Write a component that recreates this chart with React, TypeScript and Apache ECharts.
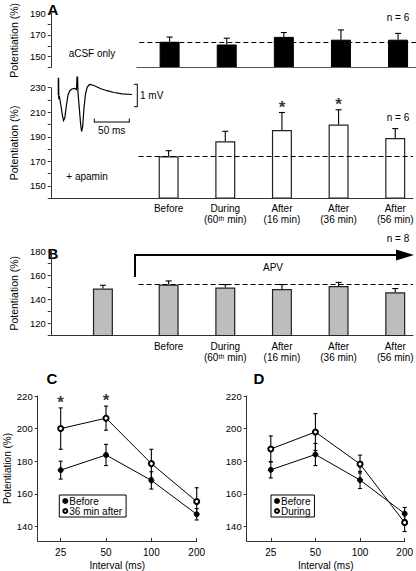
import React, { useEffect, useRef } from 'react';
import * as echarts from 'echarts';

// ---------- data ----------
const CATEGORIES = ['Before', 'During\n(60ᵗʰ min)', 'After\n(16 min)', 'After\n(36 min)', 'After\n(56 min)'];
const ACSF_MEAN = [163.7, 161.2, 168.2, 165.6, 165.6];
const ACSF_SEM = [4.3, 5.8, 4.0, 9.0, 5.8];
const APAMIN_MEAN = [174.1, 186.3, 195.5, 200.0, 189.0];
const APAMIN_SEM = [4.6, 8.2, 14.3, 12.0, 7.7];
const APAMIN_SIG = [false, false, true, true, false];
const APV_CONTROL_MEAN = 148.9;
const APV_CONTROL_SEM = 2.7;
const APV_MEAN = [152.2, 149.7, 148.5, 151.0, 145.8];
const APV_SEM = [3.0, 2.5, 3.7, 3.0, 3.1];

const INTERVALS = ['25', '50', '100', '200'];
const C_BEFORE = [174.5, 183.8, 168.2, 147.4];
const C_BEFORE_SEM = [5.5, 6.5, 5.3, 3.5];
const C_AFTER = [200.0, 206.4, 178.5, 155.2];
const C_AFTER_SEM = [12.7, 7.4, 8.8, 8.5];
const C_SIG = [true, true, false, false];
const D_BEFORE = [174.7, 184.1, 168.4, 147.8];
const D_BEFORE_SEM = [5.0, 6.8, 5.2, 3.8];
const D_DURING = [187.5, 197.9, 178.2, 142.3];
const D_DURING_SEM = [8.0, 11.3, 5.5, 5.5];

// ---------- layout ----------
const FONT = '"Liberation Sans", Arial, Helvetica, sans-serif';
const BAR_XMIN = -1.081;
const BAR_XMAX = 5.314;
const CTRL_SLOT = -0.16;
const REF_START = 0.47;
const BASE_START = 0.42;
const AXIS_COLOR = '#333';

function errRender(capHalf: number, both: boolean) {
  return (params: any, api: any) => {
    const x = api.value(0);
    const m = api.value(1);
    const e = api.value(2);
    const pTop = api.coord([x, m + e]);
    const pMid = api.coord([x, m]);
    const pBot = api.coord([x, m - e]);
    const st = { stroke: '#000', lineWidth: 1.1 };
    const children: any[] = [
      { type: 'line', shape: { x1: pTop[0], y1: pTop[1], x2: pTop[0], y2: both ? pBot[1] : pMid[1] }, style: st },
      { type: 'line', shape: { x1: pTop[0] - capHalf, y1: pTop[1], x2: pTop[0] + capHalf, y2: pTop[1] }, style: st },
    ];
    if (both) {
      children.push({ type: 'line', shape: { x1: pBot[0] - capHalf, y1: pBot[1], x2: pBot[0] + capHalf, y2: pBot[1] }, style: st });
    }
    return { type: 'group', children };
  };
}

function barXAxis(gridIndex: number, showLine: boolean, showLabels: boolean) {
  return {
    type: 'value', gridIndex, min: BAR_XMIN, max: BAR_XMAX,
    axisLine: { show: showLine, onZero: false, lineStyle: { color: AXIS_COLOR, width: 1 } },
    axisTick: { show: false },
    splitLine: { show: false },
    axisLabel: {
      show: showLabels,
      customValues: [1, 2, 3, 4, 5],
      formatter: (v: number) => CATEGORIES[Math.round(v) - 1] || '',
      fontSize: 10, lineHeight: 11, color: '#000', fontFamily: FONT, margin: 5,
    },
  };
}

function barYAxis(gridIndex: number, min: number, max: number, labels: number[]) {
  return {
    type: 'value', gridIndex, min, max, interval: 10,
    axisLine: { show: true, onZero: false, lineStyle: { color: AXIS_COLOR, width: 1 } },
    axisTick: { show: true, length: 3, lineStyle: { color: AXIS_COLOR } },
    splitLine: { show: false },
    axisLabel: { customValues: labels, fontSize: 9.5, color: '#000', fontFamily: FONT, margin: 5 },
    name: 'Potentiation (%)', nameLocation: 'middle', nameGap: 25,
    nameTextStyle: { fontSize: 10.5, color: '#000', fontFamily: FONT },
  };
}

function lineXAxis(gridIndex: number, min: number) {
  return {
    type: 'value', gridIndex, min, max: 3,
    axisLine: { show: true, onZero: false, lineStyle: { color: AXIS_COLOR, width: 1 } },
    axisTick: { show: true, inside: true, length: 3, customValues: [0, 1, 2, 3], lineStyle: { color: AXIS_COLOR } },
    splitLine: { show: false },
    axisLabel: {
      customValues: [0, 1, 2, 3], formatter: (v: number) => INTERVALS[Math.round(v)] || '',
      fontSize: 10, color: '#000', fontFamily: FONT, margin: 6,
    },
    name: 'Interval (ms)', nameLocation: 'middle', nameGap: 19,
    nameTextStyle: { fontSize: 10, color: '#000', fontFamily: FONT },
  };
}

function lineYAxis(gridIndex: number, withName: boolean) {
  const ticks = [140, 160, 180, 200, 220];
  return {
    type: 'value', gridIndex, min: 131, max: 220,
    axisLine: { show: true, onZero: false, lineStyle: { color: AXIS_COLOR, width: 1 } },
    axisTick: { show: true, length: 3, customValues: ticks, lineStyle: { color: AXIS_COLOR } },
    splitLine: { show: false },
    axisLabel: { customValues: ticks, fontSize: 9.5, color: '#000', fontFamily: FONT, margin: 5 },
    name: withName ? 'Potentiation (%)' : '', nameLocation: 'middle', nameGap: 24,
    nameTextStyle: { fontSize: 10, color: '#000', fontFamily: FONT },
  };
}

function refLineSeries(axisIndex: number, refValue: number, withBase: boolean, baseValue: number) {
  const data: any[] = [
    [{ coord: [REF_START, refValue], lineStyle: { type: [5, 3], color: '#000', width: 1.1 } }, { coord: [BAR_XMAX, refValue] }],
  ];
  if (withBase) {
    data.push([{ coord: [BASE_START, baseValue], lineStyle: { type: 'solid', color: '#555', width: 1 } }, { coord: [BAR_XMAX, baseValue] }]);
  }
  return {
    type: 'line', xAxisIndex: axisIndex, yAxisIndex: axisIndex, data: [], z: 1,
    markLine: { silent: true, symbol: ['none', 'none'], label: { show: false }, data },
  };
}

function starSeries(axisIndex: number, points: number[][]) {
  return {
    type: 'scatter', xAxisIndex: axisIndex, yAxisIndex: axisIndex, z: 5,
    symbolSize: 0, data: points, silent: true,
    label: { show: true, formatter: '*', position: 'top', distance: -3, fontSize: 17, fontWeight: 'bold', color: '#000', fontFamily: FONT },
  };
}

export default function App() {
  const ref = useRef<HTMLDivElement>(null);
  useEffect(() => {
    if (!ref.current) return;
    const chart = echarts.init(ref.current, null, { renderer: 'svg' });

    const aBars = ACSF_MEAN.map((v, i) => [i + 1, v]);
    const aErr = ACSF_MEAN.map((v, i) => [i + 1, v, ACSF_SEM[i]]);
    const pBars = APAMIN_MEAN.map((v, i) => [i + 1, v]);
    const pErr = APAMIN_MEAN.map((v, i) => [i + 1, v, APAMIN_SEM[i]]);
    const pStars = APAMIN_MEAN.map((v, i) => [i + 1, v + APAMIN_SEM[i]]).filter((_, i) => APAMIN_SIG[i]);
    const bBars = [[CTRL_SLOT, APV_CONTROL_MEAN], ...APV_MEAN.map((v, i) => [i + 1, v])];
    const bErr = [[CTRL_SLOT, APV_CONTROL_MEAN, APV_CONTROL_SEM], ...APV_MEAN.map((v, i) => [i + 1, v, APV_SEM[i]])];
    const cStars = C_AFTER.map((v, i) => [i, v + C_AFTER_SEM[i]]).filter((_, i) => C_SIG[i]);

    const lineSeries = (name: string, axis: number, vals: number[], empty: boolean) => ({
      type: 'line', name, xAxisIndex: axis, yAxisIndex: axis, z: 4,
      data: vals.map((v, i) => [i, v]),
      symbol: empty ? 'emptyCircle' : 'circle', symbolSize: 5,
      lineStyle: { color: '#000', width: 1 },
      itemStyle: { color: '#000', borderColor: '#000', borderWidth: 1 },
    });
    const errSeries = (axis: number, vals: number[], sems: number[]) => ({
      type: 'custom', xAxisIndex: axis, yAxisIndex: axis, z: 3, silent: true,
      data: vals.map((v, i) => [i, v, sems[i]]),
      renderItem: errRender(2, true),
    });

    const txt = (text: string, x: number, y: number, size: number, bold = false, align = 'center') => ({
      type: 'text', x, y, silent: true,
      style: {
        text, fill: '#000', font: `${bold ? 'bold ' : ''}${size}px ${FONT}`,
        textAlign: align, align, textVerticalAlign: 'middle', verticalAlign: 'middle',
      },
    });
    const ln = (x1: number, y1: number, x2: number, y2: number, w = 1) => ({
      type: 'line', silent: true, shape: { x1, y1, x2, y2 }, style: { stroke: '#000', lineWidth: w },
    });

    const trace = [
      [58.3, 95], [58.3, 78.3], [58.6, 78.3], [58.8, 98], [59.5, 97], [61, 106], [62.5, 116], [63.5, 120.5],
      [64.8, 118], [66.3, 106], [68, 95], [70, 90.5], [72, 89], [74.5, 88.5], [76.5, 89.5], [77, 77],
      [77.6, 77], [78, 93], [79.3, 108], [80.6, 124], [81.6, 131.5], [82.6, 127], [84, 108], [85.5, 94],
      [87.2, 87], [89.5, 84.5], [92, 84.8], [96, 86.5], [101, 88.7], [107, 90.7], [114, 92.5], [122, 93.8], [132, 94.5],
    ];

    const legendBase = {
      top: 495, orient: 'vertical', selectedMode: false,
      borderColor: '#000', borderWidth: 1, padding: [1, 4, 1, 3], itemGap: 0,
      itemWidth: 4, itemHeight: 4,
      textStyle: { fontSize: 10, color: '#000', fontFamily: FONT, padding: [0, 0, 0, -3] },
      formatter: (n: string) => n.slice(2),
    };

    const option: any = {
      animation: false,
      textStyle: { fontFamily: FONT },
      grid: [
        { left: 39, right: 0, top: 6.7, height: 60.8 },
        { left: 39, right: 0, top: 87.7, height: 110.5 },
        { left: 39, right: 0, top: 251, height: 84.5 },
        { left: 37.7, top: 396, width: 159, height: 146.3 },
        { left: 246.7, top: 396, width: 159.3, height: 146.3 },
      ],
      xAxis: [
        barXAxis(0, false, false),
        barXAxis(1, true, true),
        barXAxis(2, true, true),
        lineXAxis(3, -0.507),
        lineXAxis(4, -0.54),
      ],
      yAxis: [
        barYAxis(0, 140, 190, [150, 170, 190]),
        barYAxis(1, 140, 230, [150, 170, 190, 210, 230]),
        barYAxis(2, 110, 180, [120, 140, 160, 180]),
        lineYAxis(3, true),
        lineYAxis(4, false),
      ],
      legend: [
        {
          ...legendBase, left: 59.3,
          data: [
            { name: 'C:Before', icon: 'circle' },
            { name: 'C:36 min after', icon: 'emptyCircle' },
          ],
        },
        {
          ...legendBase, left: 271,
          data: [
            { name: 'D:Before', icon: 'circle' },
            { name: 'D:During', icon: 'emptyCircle' },
          ],
        },
      ],
      series: [
        // Panel A, aCSF only
        refLineSeries(0, ACSF_MEAN[0], true, 140),
        {
          type: 'bar', xAxisIndex: 0, yAxisIndex: 0, z: 2, barWidth: 20, data: aBars,
          itemStyle: { color: '#000', borderColor: '#000', borderWidth: 1 },
        },
        { type: 'custom', xAxisIndex: 0, yAxisIndex: 0, z: 3, data: aErr, renderItem: errRender(3, false) },
        // Panel A, + apamin
        refLineSeries(1, APAMIN_MEAN[0], false, 140),
        {
          type: 'bar', xAxisIndex: 1, yAxisIndex: 1, z: 2, barWidth: 20, data: pBars,
          itemStyle: { color: '#fff', borderColor: '#222', borderWidth: 1.2 },
        },
        { type: 'custom', xAxisIndex: 1, yAxisIndex: 1, z: 3, data: pErr, renderItem: errRender(3, false) },
        starSeries(1, pStars),
        // Panel B
        refLineSeries(2, APV_MEAN[0], false, 110),
        {
          type: 'bar', xAxisIndex: 2, yAxisIndex: 2, z: 2, barWidth: 20, data: bBars,
          itemStyle: { color: '#bdbdbd', borderColor: '#222', borderWidth: 1.2 },
        },
        { type: 'custom', xAxisIndex: 2, yAxisIndex: 2, z: 3, data: bErr, renderItem: errRender(3, false) },
        // Panel C
        errSeries(3, C_BEFORE, C_BEFORE_SEM),
        errSeries(3, C_AFTER, C_AFTER_SEM),
        lineSeries('C:Before', 3, C_BEFORE, false),
        lineSeries('C:36 min after', 3, C_AFTER, true),
        starSeries(3, cStars),
        // Panel D
        errSeries(4, D_BEFORE, D_BEFORE_SEM),
        errSeries(4, D_DURING, D_DURING_SEM),
        lineSeries('D:Before', 4, D_BEFORE, false),
        lineSeries('D:During', 4, D_DURING, true),
      ],
      graphic: [
        txt('A', 53, 9, 15, true),
        txt('B', 53, 253, 15, true),
        txt('C', 52, 378, 15, true),
        txt('D', 259, 378, 15, true),
        txt('n = 6', 398, 17, 10),
        txt('aCSF only', 92, 53, 10),
        txt('n = 6', 398, 117, 10),
        txt('+ apamin', 87, 176, 10),
        txt('n = 8', 398, 238, 10),
        txt('APV', 273, 267, 10),
        // APV arrow
        ln(135, 277, 135, 254, 2),
        ln(134, 255, 400, 255, 2),
        { type: 'polygon', silent: true, shape: { points: [[396, 249.5], [414, 255], [396, 260.5]] }, style: { fill: '#000' } },
        // trace inset
        { type: 'polyline', silent: true, shape: { points: trace }, style: { stroke: '#000', lineWidth: 1.2, fill: null } },
        ln(137.3, 84.3, 137.3, 106.7, 1),
        ln(134, 84.3, 137.8, 84.3, 1),
        ln(134, 106.7, 137.8, 106.7, 1),
        txt('1 mV', 140, 95.5, 10, false, 'left'),
        ln(94.3, 122, 129.3, 122, 1),
        ln(94.3, 118.5, 94.3, 122.5, 1),
        ln(129.3, 118.5, 129.3, 122.5, 1),
        txt('50 ms', 111.7, 130.5, 10),
      ],
    };
    chart.setOption(option);
    return () => chart.dispose();
  }, []);
  return <div ref={ref} style={{ position: 'absolute', left: 0, top: 0, width: 416, height: 571 }} />;
}
